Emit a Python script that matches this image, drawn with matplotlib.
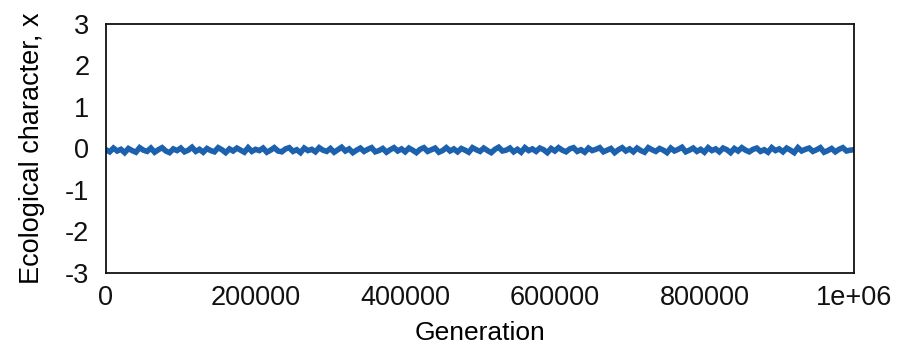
import matplotlib
matplotlib.use("Agg")
import matplotlib.pyplot as plt

plt.rcParams["font.family"] = ["Liberation Sans", "DejaVu Sans"]
plt.rcParams["axes.unicode_minus"] = False

generation_step = 5000
trait_x = [
    -0.03, -0.08, 0.01, -0.06, -0.02, -0.10, 0.00, -0.05, -0.09, 0.02,
    -0.04, -0.07, 0.01, -0.09, -0.03, 0.02, -0.06, -0.10, -0.01, -0.05,
    0.01, -0.08, -0.04, 0.03, -0.07, -0.02, -0.09, 0.00, -0.05, -0.08,
    0.02, -0.03, -0.10, -0.01, -0.06, 0.01, -0.04, -0.09, 0.02, -0.07,
    -0.02, -0.05, 0.01, -0.09, -0.04, 0.02, -0.06, -0.08, -0.01, 0.02,
    -0.07, -0.03, -0.10, 0.01, -0.05, -0.02, -0.08, 0.02, -0.04, -0.07,
    0.00, -0.09, -0.03, 0.03, -0.06, -0.01, -0.10, -0.04, 0.01, -0.07,
    -0.02, 0.02, -0.08, -0.05, 0.00, -0.09, -0.03, 0.02, -0.06, -0.01,
    -0.08, 0.01, -0.04, -0.10, -0.02, 0.02, -0.07, -0.03, 0.01, -0.09,
    -0.05, 0.02, -0.06, -0.01, -0.08, 0.00, -0.04, -0.09, 0.02, -0.03,
    -0.07, 0.01, -0.05, -0.10, -0.02, 0.03, -0.06, -0.04, 0.01, -0.08,
    -0.02, -0.09, 0.02, -0.05, -0.01, -0.07, 0.01, -0.03, -0.10, 0.00,
    -0.06, 0.02, -0.04, -0.08, -0.01, 0.02, -0.07, -0.03, -0.09, 0.01,
    -0.05, -0.02, 0.02, -0.08, -0.04, 0.00, -0.10, -0.03, 0.02, -0.06,
    -0.01, -0.08, 0.01, -0.05, -0.09, 0.02, -0.03, -0.07, 0.00, -0.04,
    -0.10, 0.01, -0.06, -0.02, 0.03, -0.08, -0.04, 0.01, -0.07, -0.02,
    -0.09, 0.02, -0.05, -0.01, -0.08, 0.01, -0.03, -0.10, 0.00, -0.06,
    0.02, -0.04, -0.08, -0.02, 0.01, -0.07, -0.03, -0.09, 0.02, -0.05,
    -0.01, -0.08, 0.01, -0.04, -0.10, 0.02, -0.06, -0.02, 0.01, -0.07,
    -0.03, 0.02, -0.09, -0.05, 0.00, -0.08, -0.02, 0.02, -0.06, -0.04,
    -0.03,
]
generations = [i * generation_step for i in range(len(trait_x))]

x_ticks = [0, 200000, 400000, 600000, 800000, 1000000]
x_tick_labels = ["0", "200000", "400000", "600000", "800000", "1e+06"]
y_ticks = [3, 2, 1, 0, -1, -2, -3]

fig = plt.figure(figsize=(9.02, 3.55), dpi=100)
# spines at x 106..854, y 24..273 px
ax = fig.add_axes([0.1175, 0.231, 0.8293, 0.7014])

ax.plot(generations, trait_x, color="#1c61ad", linewidth=4.0, solid_joinstyle="miter")

ax.set_xlim(0, 1000000)
ax.set_ylim(-3, 3)
ax.set_xticks(x_ticks)
ax.set_xticklabels(x_tick_labels)
ax.set_yticks(y_ticks)
ax.tick_params(length=0, labelsize=19.5, colors="#111111")
ax.tick_params(axis="y", pad=12)
ax.tick_params(axis="x", pad=9)
for spine in ax.spines.values():
    spine.set_linewidth(1.3)
    spine.set_color("#111111")

ax.set_xlabel("Generation", fontsize=19, labelpad=7)
ax.set_ylabel("Ecological character, x", fontsize=19.5, labelpad=14)

fig.savefig("out.png", dpi=100)
plt.close(fig)
